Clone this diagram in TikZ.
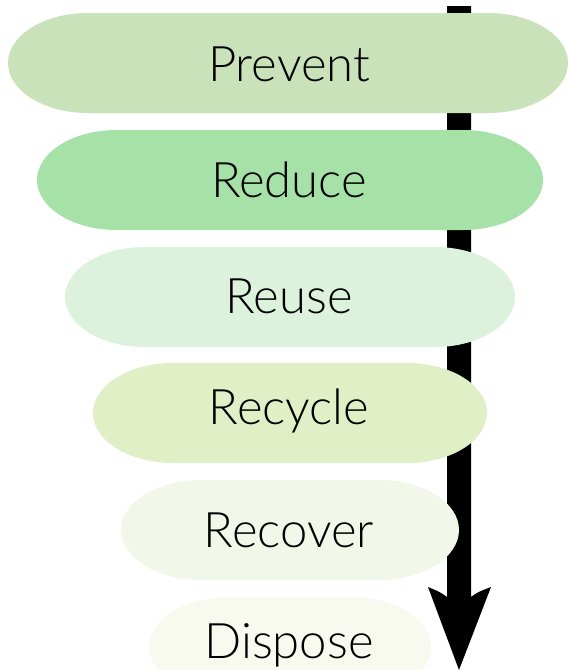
\documentclass[tikz,border=0pt]{standalone}
\usepackage{fontspec}
\newfontfamily\lblfont{Lato Light}
\usetikzlibrary{calc}
\definecolor{cPrevent}{HTML}{C9E2BA}
\definecolor{cReduce}{HTML}{A6E2A8}
\definecolor{cReuse}{HTML}{DCF2DD}
\definecolor{cRecycle}{HTML}{E0EFC6}
\definecolor{cRecover}{HTML}{F1F8E9}
\definecolor{cDispose}{HTML}{F8FAF0}
\tikzset{
  lbl/.style={font=\lblfont\fontsize{49}{54}\selectfont, text=black, anchor=base, inner sep=0pt},
  pill/.style={fill=#1, draw=none},
}
% \pillshape{left}{right}{top}{color}
\newcommand{\pillshape}[4]{%
  \fill[pill=#4] ({#1+80},#3) -- ({#2-80},#3) arc[start angle=-90, end angle=90, x radius=80, y radius=50]
    -- ({#1+80},{#3+100}) arc[start angle=90, end angle=270, x radius=80, y radius=50] -- cycle;}
\begin{document}
\begin{tikzpicture}[x=1pt,y=-1pt]
\useasboundingbox (0,0) rectangle (568,670);
\clip (0,0) rectangle (568,670);
% arrow
\coordinate (atop) at (459,6);
\coordinate (abot) at (459,670);
\fill[black] ($(atop)+(12,0)$) -- (471,597) .. controls (478,592) .. (491,587) -- (abot)
  -- (428,587) .. controls (440,592) .. (447,597) -- ($(atop)+(-12,0)$) -- cycle;
% pills
\pillshape{8}{568}{13}{cPrevent}
\pillshape{37}{543}{130}{cReduce}
\pillshape{65}{515}{247}{cReuse}
\pillshape{93}{487}{363}{cRecycle}
\pillshape{121}{459}{480}{cRecover}
\pillshape{149}{431}{597}{cDispose}
% labels
\node[lbl] (prevent) at (289,81) {Prevent};
\node[lbl] (reduce) at (289,197) {Reduce};
\node[lbl] (reuse) at (289,313) {Reuse};
\node[lbl] (recycle) at (289,424) {Recycle};
\node[lbl] (recover) at (289,547) {Recover};
\node[lbl] (dispose) at (289,658) {Dispose};
\end{tikzpicture}
\end{document}
